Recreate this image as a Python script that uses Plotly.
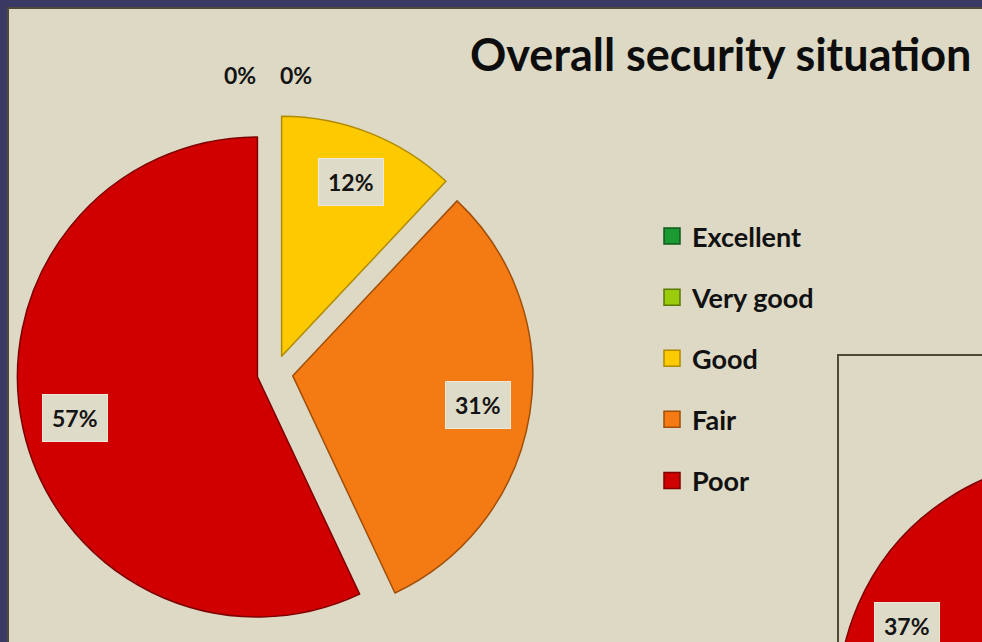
import math
import plotly.graph_objects as go

# ---- data ----
categories = ["Excellent", "Very good", "Good", "Fair", "Poor"]
overall_pct = [0, 0, 12, 31, 57]          # Overall security situation
area_pct = [0, 3, 20, 40, 37]             # second panel (only "Poor" is in view)

slice_colors = ["#1c9a32", "#9acb0c", "#fdc900", "#f47a14", "#d00000"]
edge_colors = ["#0e5a1a", "#5d7a06", "#b08a00", "#a14f08", "#7e0000"]

# ---- canvas (second panel runs past the visible window) ----
W, H = 1360, 980
VIEW_W, VIEW_H = 982, 642
NAVY = "#3a3964"
BEIGE = "#ddd9c5"
OLIVE = "#4f4a35"

PIE_R = 240          # slice radius in px
PULL = 0.075         # explode distance as fraction of radius
HALF = PIE_R * (1 + PULL)

pie1_c = (275, 373)
pie2_c = (1095, 707)


def px(x):
    return x / W


def py(y):
    return 1 - y / H


def pie_domain(c):
    cx, cy = c
    return dict(x=[px(cx - HALF), px(cx + HALF)], y=[py(cy + HALF), py(cy - HALF)])


def slice_labels(values, c, zero_shift=(-35, 21)):
    """Label positions along each slice bisector (clockwise from 12 o'clock)."""
    total = float(sum(values))
    cum = 0.0
    out = []
    zi = 0
    for v in values:
        a0 = cum / total * 2 * math.pi
        cum += v
        a1 = cum / total * 2 * math.pi
        mid = (a0 + a1) / 2
        dx, dy = math.sin(mid), -math.cos(mid)
        if v > 0:
            off = PULL * PIE_R + 0.78 * PIE_R
            out.append((c[0] + dx * off, c[1] + dy * off, f"{v}%", True, 0))
        else:
            off = 1.24 * PIE_R
            out.append((c[0] + dx * off, c[1] + dy * off, f"{v}%", False,
                        zero_shift[zi % len(zero_shift)]))
            zi += 1
    return out


fig = go.Figure()


def pie_trace(values, c):
    return go.Pie(
        values=values,
        labels=categories,
        domain=pie_domain(c),
        sort=False,
        direction="clockwise",
        rotation=0,
        textinfo="none",
        hoverinfo="label+percent",
        showlegend=False,
        pull=PULL,
        marker=dict(
            colors=slice_colors,
            line=dict(color=edge_colors, width=[1.5 if v > 0 else 0 for v in values]),
        ),
    )


fig.add_trace(pie_trace(overall_pct, pie1_c))
fig.add_trace(pie_trace(area_pct, pie2_c))

# legend entries
for name, col, edge in zip(categories, slice_colors, edge_colors):
    fig.add_trace(go.Scatter(
        x=[None], y=[None], mode="markers", name=name, legendgroup=name,
        marker=dict(symbol="square", size=17, color=col, line=dict(color=edge, width=1.5)),
    ))

annotations = []
for c, vals in ((pie1_c, overall_pct), (pie2_c, area_pct)):
    for x, y, txt, inside, shift in slice_labels(vals, c):
        # only labels that land inside the visible window
        if not (0 <= x <= VIEW_W and 0 <= y <= VIEW_H):
            continue
        ann = dict(x=px(x), y=py(y), xref="paper", yref="paper", text=txt,
                   showarrow=False, xanchor="center", yanchor="middle", xshift=shift,
                   font=dict(family="Lato", size=23, color="#141414", weight="bold"))
        if inside:
            ann.update(bgcolor="#dfdbc9", bordercolor="#ece8da", borderwidth=1, borderpad=9)
        annotations.append(ann)

annotations.append(dict(
    x=px(468), y=py(25), xref="paper", yref="paper", xanchor="left", yanchor="top",
    text="Overall security situation", showarrow=False,
    font=dict(family="Lato", size=45, color="#0d0d0d", weight="bold"),
))

shapes = [
    # slide panel with dark inner edge
    dict(type="rect", xref="paper", yref="paper", x0=px(8), y0=py(8), x1=1.02, y1=-0.02,
         fillcolor=BEIGE, line=dict(color=OLIVE, width=2), layer="below"),
    # second chart frame
    dict(type="rect", xref="paper", yref="paper", x0=px(838), y0=py(355), x1=0.999, y1=0.001,
         fillcolor="rgba(0,0,0,0)", line=dict(color=OLIVE, width=2), layer="below"),
]

fig.update_layout(
    width=W, height=H, autosize=False,
    margin=dict(l=0, r=0, t=0, b=0),
    paper_bgcolor=NAVY,
    plot_bgcolor="rgba(0,0,0,0)",
    xaxis=dict(visible=False),
    yaxis=dict(visible=False),
    shapes=shapes,
    annotations=annotations,
    showlegend=True,
    legend=dict(
        x=px(652), y=py(212), xanchor="left", yanchor="top",
        bgcolor="rgba(0,0,0,0)", tracegroupgap=23,
        font=dict(family="Lato", size=27, color="#111111", weight="bold"),
        itemclick=False, itemdoubleclick=False,
    ),
)

fig.write_html(
    "out.html",
    post_script=(
        "document.documentElement.style.overflow='hidden';"
        "document.body.style.overflow='hidden';"
        "document.body.style.margin='0';"
    ),
)
